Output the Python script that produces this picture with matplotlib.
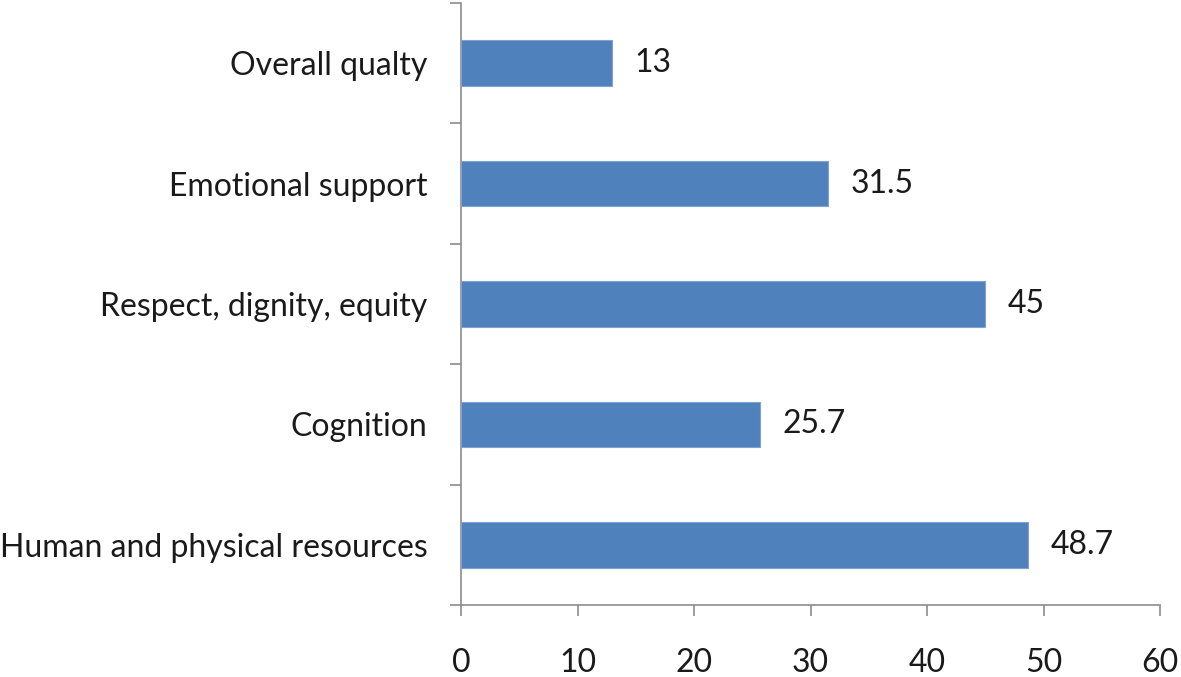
import matplotlib
matplotlib.use("Agg")
import matplotlib.pyplot as plt

categories = ["Human and physical resources", "Cognition", "Respect, dignity, equity",
              "Emotional support", "Overall qualty"]
values = [48.7, 25.7, 45, 31.5, 13]
value_labels = ["48.7", "25.7", "45", "31.5", "13"]
xticks = [0, 10, 20, 30, 40, 50, 60]

plt.rcParams['font.family'] = ['Lato', 'DejaVu Sans']
FS = 23

fig = plt.figure(figsize=(11.81, 6.77), dpi=100)
ax = fig.add_axes([461/1181, 1 - 605/677, (1160 - 461)/1181, (605 - 3)/677])

ypos = list(range(len(categories)))
ax.barh(ypos, values, height=0.38, color="#4F81BD", edgecolor="#7FA3D0", linewidth=0.8, zorder=3)
for y, v, lab in zip(ypos, values, value_labels):
    ax.text(v + 1.9, y, lab, va="center", ha="left", fontsize=FS, color="#1a1a1a")

ax.set_xlim(0, 60)
ax.set_ylim(-0.5, len(categories) - 0.5)
ax.set_xticks(xticks)
ax.set_xticklabels([str(t) for t in xticks], fontsize=FS, color="#1a1a1a")
ax.set_yticks(ypos)
ax.set_yticklabels(categories, fontsize=FS, color="#1a1a1a")
ax.tick_params(axis="y", length=0, pad=24)
ax.set_yticks([y - 0.5 for y in range(len(categories) + 1)], minor=True)
ax.tick_params(axis="y", which="minor", length=8, color="#8c8c8c", width=1.2)
ax.tick_params(axis="x", length=8, color="#8c8c8c", width=1.2, pad=23)

for s in ["top", "right"]:
    ax.spines[s].set_visible(False)
for s in ["left", "bottom"]:
    ax.spines[s].set_color("#8c8c8c")
    ax.spines[s].set_linewidth(1.2)

fig.savefig("out.png", dpi=100)
